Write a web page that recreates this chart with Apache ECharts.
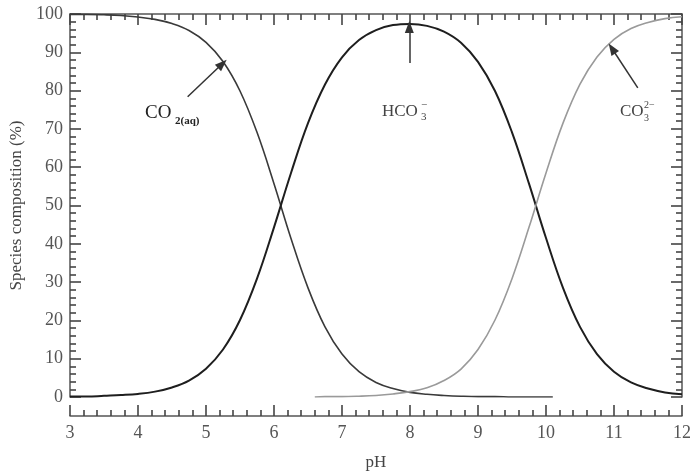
<!doctype html>
<html>
	<head>
		<meta charset="utf-8">
		<title>Species composition</title>
		<style>
			html, body { margin: 0; padding: 0; background: #fff; }
			#chart { width: 695px; height: 476px; }
		</style>
	</head>
	<body>
		<div id="chart"></div>
		<script src="https://cdn.jsdelivr.net/npm/echarts@6/dist/echarts.min.js"></script>
		<script type="text/javascript">
			// pH grid (read every 0.25)
			var phGrid = [3, 3.25, 3.5, 3.75, 4, 4.25, 4.5, 4.75, 5, 5.25, 5.5, 5.75, 6, 6.25, 6.5, 6.75, 7, 7.25, 7.5, 7.75,
				8, 8.25, 8.5, 8.75, 9, 9.25, 9.5, 9.75, 10, 10.25, 10.5, 10.75, 11, 11.25, 11.5, 11.75, 12];

			// CO2(aq), runs from pH 3 to about 10.1
			var co2Ph = [3, 3.25, 3.5, 3.75, 4, 4.25, 4.5, 4.75, 5, 5.25, 5.5, 5.75, 6, 6.25, 6.5, 6.75, 7, 7.25, 7.5, 7.75,
				8, 8.25, 8.5, 8.75, 9, 9.25, 9.5, 9.75, 10, 10.1];
			var co2Val = [99.9, 99.9, 99.8, 99.6, 99.2, 98.6, 97.5, 95.7, 92.6, 87.6, 79.9, 69.1, 55.7, 41.4, 28.5, 18.3, 11.2, 6.6, 3.8, 2.2,
				1.2, 0.7, 0.4, 0.2, 0.1, 0.1, 0, 0, 0, 0];

			// HCO3-
			var hco3Val = [0.1, 0.1, 0.3, 0.5, 0.8, 1.4, 2.5, 4.3, 7.4, 12.4, 20.1, 30.9, 44.3, 58.5, 71.5, 81.6, 88.7, 93.2, 95.8, 97.1,
				97.4, 96.9, 95.4, 92.5, 87.5, 79.9, 69.1, 55.7, 41.5, 28.5, 18.3, 11.2, 6.6, 3.8, 2.2, 1.2, 0.7];

			// CO3 2-, starts at about pH 6.6
			var co3Ph = [6.6, 6.75, 7, 7.25, 7.5, 7.75, 8, 8.25, 8.5, 8.75, 9, 9.25, 9.5, 9.75, 10, 10.25, 10.5, 10.75, 11, 11.25, 11.5, 11.75, 12];
			var co3Val = [0, 0.1, 0.1, 0.2, 0.4, 0.8, 1.4, 2.4, 4.3, 7.3, 12.4, 20.1, 30.9, 44.3, 58.5, 71.5, 81.7, 88.8, 93.4, 96.2, 97.8, 98.8, 99.3];

			// arrows [fromPh, fromVal, toPh, toVal]
			var arrowCO2 = [4.73, 78.4, 5.24, 87.0];
			var arrowHCO3 = [7.99, 87.2, 7.99, 96.6];
			var arrowCO3 = [11.35, 80.7, 10.97, 91.0];

			var xTicks = [3, 4, 5, 6, 7, 8, 9, 10, 11, 12];

			function pairs(xs, ys) {
				var out = [];
				for (var i = 0; i < xs.length; i++) {
					out.push([xs[i], ys[i]]);
				}
				return out;
			}

			function arrowLine(a) {
				return [{ coord: [a[0], a[1]], symbol: 'none' }, { coord: [a[2], a[3]], symbol: 'triangle', symbolSize: [9, 12] }];
			}

			var serif = '"Liberation Serif", "DejaVu Serif", serif';
			var axisColor = '#555';

			// new objects for each axis
			function lineStyle() {
				return { show: true, onZero: false, lineStyle: { color: axisColor, width: 1.5 } };
			}
			function tickStyle() {
				return {
					show: true,
					inside: true,
					length: 11,
					lineStyle: { color: '#444', width: 1.6 }
				};
			}
			function minorStyle() {
				return {
					show: true,
					splitNumber: 5,
					length: 6,
					lineStyle: { color: '#444', width: 1.6 }
				};
			}

			var chart = echarts.init(document.getElementById('chart'));

			var option = {
				animation: false,
				backgroundColor: '#fff',
				grid: {
					left: 70,
					right: 13,
					top: 14,
					bottom: 78
				},
				xAxis: [{
					type: 'value',
					position: 'bottom',
					min: xTicks[0],
					max: xTicks[xTicks.length - 1],
					interval: 1,
					offset: 19,
					name: 'pH',
					nameLocation: 'middle',
					nameGap: 38,
					nameTextStyle: { fontFamily: serif, fontSize: 17, color: '#444' },
					axisLine: lineStyle(),
					axisTick: tickStyle(),
					minorTick: minorStyle(),
					splitLine: { show: false },
					axisLabel: { fontFamily: serif, fontSize: 18, color: '#555', margin: 8 }
				}, {
					type: 'value',
					position: 'top',
					min: xTicks[0],
					max: xTicks[xTicks.length - 1],
					interval: 1,
					axisLine: lineStyle(),
					axisTick: tickStyle(),
					minorTick: minorStyle(),
					splitLine: { show: false },
					axisLabel: { show: false }
				}],
				yAxis: [{
					type: 'value',
					position: 'left',
					min: 0,
					max: 100,
					interval: 10,
					name: 'Species composition (%)',
					nameLocation: 'middle',
					nameRotate: 90,
					nameGap: 45,
					nameTextStyle: { fontFamily: serif, fontSize: 17, color: '#444' },
					axisLine: lineStyle(),
					axisTick: tickStyle(),
					minorTick: minorStyle(),
					splitLine: { show: false },
					axisLabel: { fontFamily: serif, fontSize: 18, color: '#555', margin: 7 }
				}, {
					type: 'value',
					position: 'right',
					min: 0,
					max: 100,
					interval: 10,
					axisLine: lineStyle(),
					axisTick: tickStyle(),
					minorTick: minorStyle(),
					splitLine: { show: false },
					axisLabel: { show: false }
				}],
				series: [{
					name: 'CO2(aq)',
					type: 'line',
					data: pairs(co2Ph, co2Val),
					smooth: 0.4,
					showSymbol: false,
					lineStyle: { color: '#3a3a3a', width: 1.6 },
					markLine: {
						silent: true,
						symbol: ['none', 'triangle'],
						label: { show: false },
						lineStyle: { color: '#333', width: 1.5, type: 'solid' },
						data: [arrowLine(arrowCO2), arrowLine(arrowHCO3), arrowLine(arrowCO3)]
					}
				}, {
					name: 'HCO3-',
					type: 'line',
					data: pairs(phGrid, hco3Val),
					smooth: 0.4,
					showSymbol: false,
					lineStyle: { color: '#1e1e1e', width: 2 }
				}, {
					name: 'CO3 2-',
					type: 'line',
					data: pairs(co3Ph, co3Val),
					smooth: 0.4,
					showSymbol: false,
					lineStyle: { color: '#9a9a9a', width: 1.6 }
				}],
				graphic: [
					// CO2(aq)
					{ type: 'text', left: 145, top: 104, style: { text: 'CO', font: '19px ' + serif, fill: '#222' } },
					{ type: 'text', left: 175, top: 116, style: { text: '2(aq)', font: 'bold 11px ' + serif, fill: '#222' } },
					// HCO3-
					{ type: 'text', left: 382, top: 103, style: { text: 'HCO', font: '17px ' + serif, fill: '#444' } },
					{ type: 'text', left: 421, top: 112, style: { text: '3', font: '11px ' + serif, fill: '#444' } },
					{ type: 'text', left: 421, top: 100, style: { text: '\u2212', font: '11px ' + serif, fill: '#444' } },
					// CO3 2-
					{ type: 'text', left: 620, top: 103, style: { text: 'CO', font: '17px ' + serif, fill: '#444' } },
					{ type: 'text', left: 644, top: 113, style: { text: '3', font: '10px ' + serif, fill: '#444' } },
					{ type: 'text', left: 644, top: 100, style: { text: '2\u2212', font: '10px ' + serif, fill: '#444' } }
				]
			};
			chart.setOption(option);
		</script>
	</body>
</html>
